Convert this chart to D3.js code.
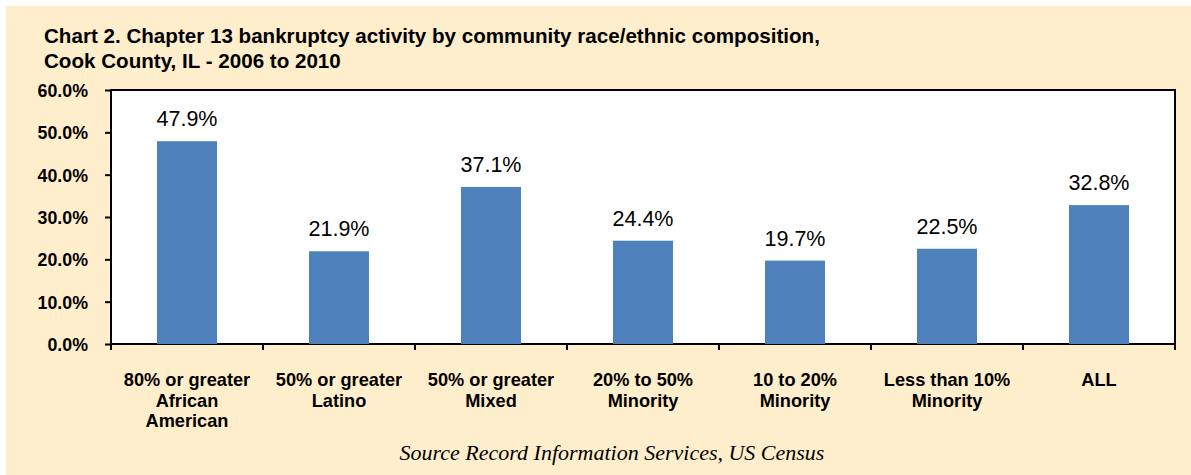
<!DOCTYPE html>
<html><head><meta charset="utf-8">
<script src="https://cdn.jsdelivr.net/npm/d3@7"></script>
<style>body{margin:0;background:#fff;} svg{display:block;}</style>
</head><body>
<script>
const categories = [
  ["80% or greater", "African", "American"],
  ["50% or greater", "Latino"],
  ["50% or greater", "Mixed"],
  ["20% to 50%", "Minority"],
  ["10 to 20%", "Minority"],
  ["Less than 10%", "Minority"],
  ["ALL"]
];
const values = [47.9, 21.9, 37.1, 24.4, 19.7, 22.5, 32.8];
const yTicks = [0, 10, 20, 30, 40, 50, 60];
const titleLines = ["Chart 2. Chapter 13 bankruptcy activity by community race/ethnic composition,", "Cook County, IL - 2006 to 2010"];
const sourceText = "Source Record Information Services, US Census";

const W = 1191, H = 475;
const FONT = "Liberation Sans, Arial, sans-serif";
const svg = d3.select("body").append("svg").attr("width", W).attr("height", H);
svg.append("rect").attr("x", 6).attr("y", 6).attr("width", W - 6).attr("height", H - 6).attr("fill", "#FFEECC");

const m = {left: 111, right: 1175, top: 90, bottom: 344};
const idx = categories.map((d, i) => i);
const x = d3.scaleBand().domain(idx).range([m.left, m.right]).paddingInner(0.605).paddingOuter(0.3025);
const xb = d3.scaleBand().domain(idx).range([m.left, m.right]);
const y = d3.scaleLinear().domain([0, 60]).range([m.bottom, m.top]);

svg.append("rect").attr("x", m.left).attr("y", m.top).attr("width", m.right - m.left).attr("height", m.bottom - m.top)
  .attr("fill", "#fff").attr("stroke", "#000").attr("stroke-width", 2);

svg.selectAll("rect.bar").data(values).join("rect").attr("class", "bar")
  .attr("x", (d, i) => x(i)).attr("width", x.bandwidth())
  .attr("y", d => y(d)).attr("height", d => y(0) - y(d)).attr("fill", "#4F81BD");

svg.selectAll("text.val").data(values).join("text").attr("class", "val")
  .attr("x", (d, i) => x(i) + x.bandwidth() / 2).attr("y", d => y(d) - 15)
  .attr("text-anchor", "middle").attr("font-family", FONT)
  .attr("font-size", 21.5).attr("fill", "#000").text(d => d.toFixed(1) + "%");

// y axis
const yAxis = d3.axisLeft(y).tickValues(yTicks).tickSize(6).tickFormat(d => d.toFixed(1) + "%");
const gy = svg.append("g").attr("transform", `translate(${m.left},0)`).call(yAxis);
gy.select(".domain").remove();
gy.selectAll(".tick line").attr("stroke", "#000").attr("stroke-width", 2);
gy.selectAll(".tick text").attr("x", -23).attr("dy", "0.36em").attr("font-family", FONT)
  .attr("font-size", 17.8).attr("font-weight", "bold").attr("fill", "#000");

// x axis ticks at band boundaries
const bounds = idx.map(i => xb(i)).concat([m.right]);
svg.selectAll("line.xt").data(bounds).join("line").attr("class", "xt")
  .attr("x1", d => d).attr("x2", d => d).attr("y1", m.bottom).attr("y2", m.bottom + 6)
  .attr("stroke", "#000").attr("stroke-width", 2);

const labels = svg.selectAll("text.cat").data(categories).join("text").attr("class", "cat")
  .attr("text-anchor", "middle").attr("font-family", FONT)
  .attr("font-size", 18.2).attr("font-weight", "bold").attr("fill", "#000");
labels.each(function(d, i) {
  const t = d3.select(this);
  d.forEach((line, j) => {
    t.append("tspan").attr("x", xb(i) + xb.bandwidth() / 2).attr("y", 386 + j * 20.7).text(line);
  });
});

// title
svg.selectAll("text.title").data(titleLines).join("text").attr("class", "title")
  .attr("x", 44).attr("y", (d, i) => 43 + i * 25)
  .attr("font-family", FONT).attr("font-size", 20.6).attr("font-weight", "bold")
  .attr("fill", "#000").text(d => d);

svg.append("text").attr("x", 612).attr("y", 460).attr("text-anchor", "middle")
  .attr("font-family", "Liberation Serif, Times New Roman, serif").attr("font-style", "italic")
  .attr("font-size", 22).attr("fill", "#000").text(sourceText);
</script>
</body></html>
